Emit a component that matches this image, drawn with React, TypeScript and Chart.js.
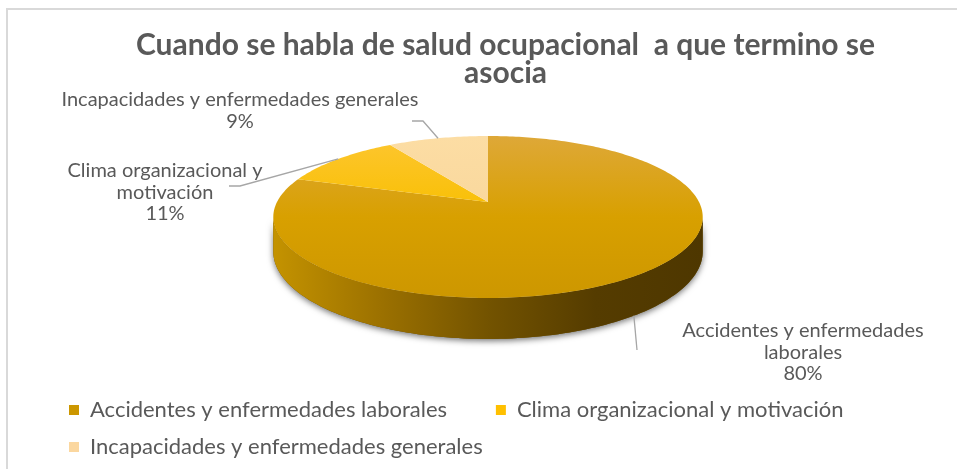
import React, { useEffect, useRef } from 'react';
import { Chart, registerables } from 'chart.js';

Chart.register(...registerables);

// ---------- data ----------
const TITLE_LINES = ['Cuando se habla de salud ocupacional  a que termino se', 'asocia'];
const CATEGORIES = [
  'Accidentes y enfermedades laborales',
  'Clima organizacional y motivación',
  'Incapacidades y enfermedades generales',
];
const VALUES = [80, 11, 9];
const LABEL_LINES = [
  ['Accidentes y enfermedades', 'laborales'],
  ['Clima organizacional y', 'motivación'],
  ['Incapacidades y enfermedades generales'],
];

// ---------- styles / layout ----------
const LEGEND_COLORS = ['#CC9700', '#FFC000', '#FBD79F'];
const TOP_GRADIENTS = [
  ['#DEA838', '#D8A000', '#CD9700'],
  ['#FDC630', '#F8BF00', '#E8B700'],
  ['#FCDDA4', '#F9D79C', '#EACA8E'],
];
const WALL_GRADIENTS = [
  ['#C49300', '#9C7100', '#735300', '#553C00', '#4E3700'],
  ['#D9A600', '#B88D00', '#967200', '#7A5D00', '#6E5300'],
  ['#E0BC80', '#C9A66C', '#AE8F5C', '#957B4E', '#8A7148'],
];
const TEXT_COLOR = '#595959';
const LEADER_COLOR = '#A6A6A6';
const FONT = 'Lato, "Open Sans", sans-serif';

// perspective pie geometry
const GEO = { cx: 488, cy: 202, r: 211, ry: 78.2, b: 0.185, depth: 33.4 };
// label anchor (center x, first line y) and leader route, per category
const LABEL_POS = [
  { x: 803, y: 331 },
  { x: 165, y: 171 },
  { x: 240, y: 100 },
];
const LEADER_ROUTE = [
  [[637, 350]],
  [[240, 186], [229, 186]],
  [[423, 121], [412, 121]],
];
const LABEL_LINE_H = 21.5;

function proj(a: number, h: number) {
  const X = Math.cos(a);
  const Z = -Math.sin(a);
  const k = 1 + GEO.b * Z;
  return {
    x: GEO.cx + (GEO.r * X) / k,
    y: GEO.cy - (GEO.ry * Z) / k + (h * GEO.depth) / k,
  };
}

const pie3dPlugin = {
  id: 'pie3d',
  beforeDraw(chart: any) {
    const ctx = chart.ctx;
    ctx.save();
    ctx.fillStyle = '#FFFFFF';
    ctx.fillRect(0, 0, chart.width, chart.height);
    ctx.fillStyle = '#D9D9D9';
    ctx.fillRect(6, 8, chart.width - 6, 2);
    ctx.fillRect(6, 8, 2, chart.height - 8);
    ctx.restore();
  },
  beforeDatasetsDraw(chart: any) {
    const ctx = chart.ctx;
    const meta = chart.getDatasetMeta(0);
    const arcs = meta.data as any[];
    const a0 = Math.asin(GEO.b);
    const a1 = Math.PI - a0;
    const steps = 120;

    ctx.save();
    const wallPath = (s: number, e: number) => {
      ctx.beginPath();
      for (let i = 0; i <= steps; i++) {
        const p = proj(s + ((e - s) * i) / steps, 0);
        if (i === 0) ctx.moveTo(p.x, p.y);
        else ctx.lineTo(p.x, p.y);
      }
      for (let i = steps; i >= 0; i--) {
        const p = proj(s + ((e - s) * i) / steps, 1);
        ctx.lineTo(p.x, p.y);
      }
      ctx.closePath();
    };
    // shadow
    ctx.save();
    ctx.shadowColor = 'rgba(0,0,0,0.55)';
    ctx.shadowBlur = 6;
    ctx.shadowOffsetY = 2;
    ctx.fillStyle = '#6E5000';
    wallPath(a0, a1);
    ctx.fill();
    ctx.restore();

    const left = GEO.cx - GEO.r * 1.02;
    const right = GEO.cx + GEO.r * 1.02;
    arcs.forEach((arc: any, i: number) => {
      const s = Math.max(arc.startAngle, a0);
      const e = Math.min(arc.endAngle, a1);
      if (e <= s) return;
      const g = ctx.createLinearGradient(left, 0, right, 0);
      const stops = WALL_GRADIENTS[i % WALL_GRADIENTS.length];
      stops.forEach((c, j) => g.addColorStop(j / (stops.length - 1), c));
      ctx.fillStyle = g;
      wallPath(s, e);
      ctx.fill();
    });

    // top faces
    const topY = GEO.cy - GEO.ry / (1 + GEO.b);
    const botY = GEO.cy + GEO.ry / (1 - GEO.b);
    arcs.forEach((arc: any, i: number) => {
      const s = arc.startAngle;
      const e = arc.endAngle;
      const n = Math.max(8, Math.ceil(((e - s) / (2 * Math.PI)) * 360));
      ctx.beginPath();
      ctx.moveTo(GEO.cx, GEO.cy);
      for (let k = 0; k <= n; k++) {
        const p = proj(s + ((e - s) * k) / n, 0);
        ctx.lineTo(p.x, p.y);
      }
      ctx.closePath();
      const g = ctx.createLinearGradient(0, topY, 0, botY);
      const st = TOP_GRADIENTS[i % TOP_GRADIENTS.length];
      g.addColorStop(0, st[0]);
      g.addColorStop(0.5, st[1]);
      g.addColorStop(1, st[2]);
      ctx.fillStyle = g;
      ctx.fill();
    });

    // leader lines and labels
    const total = VALUES.reduce((a, b) => a + b, 0);
    ctx.strokeStyle = LEADER_COLOR;
    ctx.lineWidth = 1.3;
    arcs.forEach((arc: any, i: number) => {
      const mid = (arc.startAngle + arc.endAngle) / 2;
      const front = Math.sin(mid) > 0;
      const p = proj(mid, front ? 1 : 0);
      ctx.beginPath();
      ctx.moveTo(p.x, p.y);
      LEADER_ROUTE[i].forEach(([x, y]) => ctx.lineTo(x, y));
      ctx.stroke();

      const lines = [...LABEL_LINES[i], Math.round((VALUES[i] / total) * 100) + '%'];
      ctx.fillStyle = TEXT_COLOR;
      ctx.font = `20px ${FONT}`;
      ctx.textAlign = 'center';
      ctx.textBaseline = 'middle';
      lines.forEach((t, j) => {
        ctx.fillText(t, LABEL_POS[i].x, LABEL_POS[i].y + j * LABEL_LINE_H);
      });
    });
    ctx.restore();
    return false;
  },
};

export default function App() {
  const ref = useRef<HTMLCanvasElement>(null);
  useEffect(() => {
    if (!ref.current) return;
    const chart = new Chart(ref.current, {
      type: 'pie',
      data: {
        labels: CATEGORIES,
        datasets: [
          {
            data: VALUES,
            backgroundColor: LEGEND_COLORS,
            borderWidth: 0,
          },
        ],
      },
      options: {
        responsive: false,
        animation: false,
        events: [],
        layout: { padding: { left: 54, right: 0, top: 31, bottom: 1 } },
        plugins: {
          title: {
            display: true,
            text: TITLE_LINES,
            color: TEXT_COLOR,
            font: { family: FONT, size: 30, weight: 'bold', lineHeight: 0.94 },
            padding: { top: 0, bottom: 10 },
          },
          legend: {
            position: 'bottom',
            align: 'start',
            labels: {
              boxWidth: 10,
              boxHeight: 10,
              padding: 15,
              color: TEXT_COLOR,
              font: { family: FONT, size: 22 },
              generateLabels: (c: any) => {
                const items = (Chart as any).overrides.pie.plugins.legend.labels.generateLabels(c);
                items.forEach((it: any, i: number) => {
                  if (i === 0) it.text = it.text + '      ';
                });
                return items;
              },
            },
          },
          tooltip: { enabled: false },
        },
      } as any,
      plugins: [pie3dPlugin as any],
    });
    return () => chart.destroy();
  }, []);
  return (
    <div style={{ position: 'absolute', left: 0, top: 0, width: 957, height: 469, background: '#fff' }}>
      <canvas ref={ref} width={957} height={469} style={{ display: 'block', width: 957, height: 469 }} />
    </div>
  );
}
